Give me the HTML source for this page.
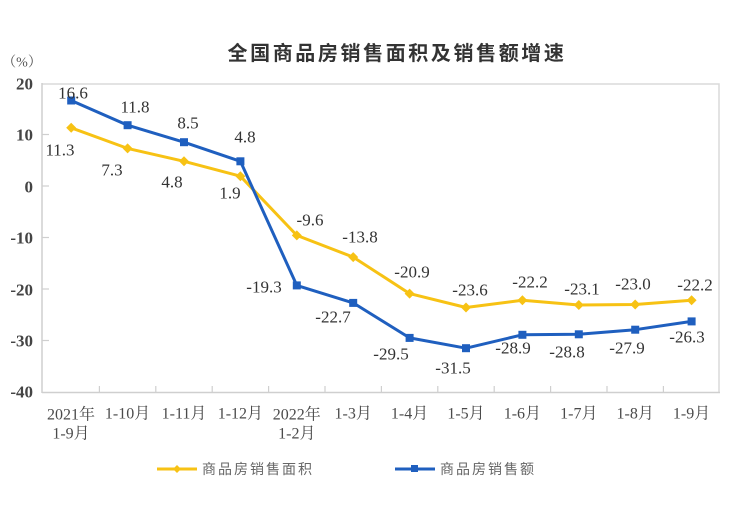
<!DOCTYPE html>
<html><head><meta charset="utf-8"><style>
html,body{margin:0;padding:0;background:#fff;}
svg{display:block;}
.t{font-family:"Liberation Serif","Noto Serif CJK SC",serif;font-size:17px;fill:#333;}
.ax{font-family:"Liberation Serif","Noto Serif CJK SC",serif;font-size:17px;fill:#444;font-weight:bold;}
.xl{font-family:"Liberation Serif","Noto Serif CJK SC",serif;font-size:16px;fill:#4a4a4a;}
</style></head><body>
<svg width="740" height="505" viewBox="0 0 740 505" xmlns="http://www.w3.org/2000/svg">
<rect width="740" height="505" fill="#fff"/>
<text x="397" y="60" text-anchor="middle" style="font-family:'Liberation Sans','Noto Sans CJK SC',sans-serif;font-size:20px;font-weight:bold;fill:#333;letter-spacing:2.6px">全国商品房销售面积及销售额增速</text>
<!-- frame -->
<polyline points="42,84 719,84 719,392" fill="none" stroke="#dadada" stroke-width="1.5"/>
<line x1="42" y1="83" x2="42" y2="393" stroke="#cfcfcf" stroke-width="1.5"/>
<line x1="42" y1="392.5" x2="720" y2="392.5" stroke="#cfcfcf" stroke-width="1.5"/>
<!-- ticks -->
<g stroke="#cfcfcf" stroke-width="1.2">
<line x1="42" y1="134.5" x2="49" y2="134.5"/><line x1="42" y1="186" x2="49" y2="186"/>
<line x1="42" y1="237.5" x2="49" y2="237.5"/><line x1="42" y1="289" x2="49" y2="289"/>
<line x1="42" y1="340.5" x2="49" y2="340.5"/>
<line x1="99.4" y1="386" x2="99.4" y2="392"/><line x1="155.8" y1="386" x2="155.8" y2="392"/>
<line x1="212.2" y1="386" x2="212.2" y2="392"/><line x1="268.6" y1="386" x2="268.6" y2="392"/>
<line x1="325" y1="386" x2="325" y2="392"/><line x1="381.4" y1="386" x2="381.4" y2="392"/>
<line x1="437.8" y1="386" x2="437.8" y2="392"/><line x1="494.2" y1="386" x2="494.2" y2="392"/>
<line x1="550.6" y1="386" x2="550.6" y2="392"/><line x1="607" y1="386" x2="607" y2="392"/>
<line x1="663.4" y1="386" x2="663.4" y2="392"/>
</g>
<!-- y labels -->
<g class="ax" text-anchor="end" dominant-baseline="central">
<text x="33" y="84">20</text><text x="33" y="135">10</text><text x="33" y="187">0</text>
<text x="33" y="238">-10</text><text x="33" y="290">-20</text><text x="33" y="341">-30</text>
<text x="33" y="392">-40</text>
</g>
<text x="22" y="63" text-anchor="middle" dominant-baseline="central" style="font-family:'Liberation Serif','Noto Serif CJK SC',serif;font-size:14px;fill:#555">（%）</text>
<!-- x labels -->
<g class="xl" text-anchor="middle" dominant-baseline="central">
<text x="71" y="415">2021年</text><text x="71" y="434">1-9月</text>
<text x="127.6" y="414">1-10月</text><text x="184" y="414">1-11月</text><text x="240.4" y="414">1-12月</text>
<text x="296.8" y="415">2022年</text><text x="296.8" y="434">1-2月</text>
<text x="353.2" y="414">1-3月</text><text x="409.6" y="414">1-4月</text><text x="466" y="414">1-5月</text>
<text x="522.4" y="414">1-6月</text><text x="578.8" y="414">1-7月</text><text x="635.2" y="414">1-8月</text>
<text x="691.6" y="414">1-9月</text>
</g>
<!-- yellow series -->
<polyline fill="none" stroke="#F7C214" stroke-width="3" stroke-linejoin="round" points="71.2,127.8 127.6,148.4 184,161.3 240.4,176.2 296.8,235.4 353.2,257.1 409.6,293.6 466,307.5 522.4,300.3 578.8,305 635.2,304.5 691.6,300.3"/>
<g fill="#F7C214">
<path d="M71.2,122.8l5,5-5,5-5-5z"/><path d="M127.6,143.4l5,5-5,5-5-5z"/><path d="M184,156.3l5,5-5,5-5-5z"/>
<path d="M240.4,171.2l5,5-5,5-5-5z"/><path d="M296.8,230.4l5,5-5,5-5-5z"/><path d="M353.2,252.1l5,5-5,5-5-5z"/>
<path d="M409.6,288.6l5,5-5,5-5-5z"/><path d="M466,302.5l5,5-5,5-5-5z"/><path d="M522.4,295.3l5,5-5,5-5-5z"/>
<path d="M578.8,300l5,5-5,5-5-5z"/><path d="M635.2,299.5l5,5-5,5-5-5z"/><path d="M691.6,295.3l5,5-5,5-5-5z"/>
</g>
<!-- blue series -->
<polyline fill="none" stroke="#1F5FBF" stroke-width="3" stroke-linejoin="round" points="71.2,100.5 127.6,125.2 184,142.2 240.4,161.3 296.8,285.4 353.2,302.9 409.6,337.9 466,348.2 522.4,334.8 578.8,334.3 635.2,329.7 691.6,321.4"/>
<g fill="#1F5FBF">
<rect x="67.2" y="96.5" width="8" height="8"/><rect x="123.6" y="121.2" width="8" height="8"/>
<rect x="180" y="138.2" width="8" height="8"/><rect x="236.4" y="157.3" width="8" height="8"/>
<rect x="292.8" y="281.4" width="8" height="8"/><rect x="349.2" y="298.9" width="8" height="8"/>
<rect x="405.6" y="333.9" width="8" height="8"/><rect x="462" y="344.2" width="8" height="8"/>
<rect x="518.4" y="330.8" width="8" height="8"/><rect x="574.8" y="330.3" width="8" height="8"/>
<rect x="631.2" y="325.7" width="8" height="8"/><rect x="687.6" y="317.4" width="8" height="8"/>
</g>
<!-- yellow labels -->
<g class="t" text-anchor="middle" dominant-baseline="central">
<text x="60" y="150">11.3</text><text x="112" y="170">7.3</text><text x="172" y="182">4.8</text>
<text x="230" y="193">1.9</text><text x="310" y="220">-9.6</text><text x="360" y="237">-13.8</text>
<text x="412" y="272">-20.9</text><text x="470" y="290">-23.6</text><text x="530" y="282">-22.2</text>
<text x="582" y="289">-23.1</text><text x="633" y="284">-23.0</text><text x="695" y="285">-22.2</text>
</g>
<!-- blue labels -->
<g class="t" text-anchor="middle" dominant-baseline="central">
<text x="73" y="93">16.6</text><text x="135" y="107">11.8</text><text x="188" y="123">8.5</text>
<text x="245" y="137">4.8</text><text x="264" y="287">-19.3</text><text x="333" y="317">-22.7</text>
<text x="391" y="354">-29.5</text><text x="453" y="368">-31.5</text><text x="513" y="348">-28.9</text>
<text x="567" y="352">-28.8</text><text x="627" y="348">-27.9</text><text x="687" y="337">-26.3</text>
</g>
<!-- legend -->
<line x1="157" y1="469" x2="197" y2="469" stroke="#F7C214" stroke-width="3"/>
<path d="M177,465l4,4-4,4-4-4z" fill="#F7C214"/>
<text x="202" y="469" dominant-baseline="central" style="font-family:'Liberation Sans','Noto Sans CJK SC',sans-serif;font-size:14px;fill:#666;letter-spacing:2px">商品房销售面积</text>
<line x1="395" y1="469" x2="435" y2="469" stroke="#1F5FBF" stroke-width="3"/>
<rect x="411" y="465" width="7" height="7" fill="#1F5FBF"/>
<text x="440" y="469" dominant-baseline="central" style="font-family:'Liberation Sans','Noto Sans CJK SC',sans-serif;font-size:14px;fill:#666;letter-spacing:2px">商品房销售额</text>
</svg>
</body></html>
